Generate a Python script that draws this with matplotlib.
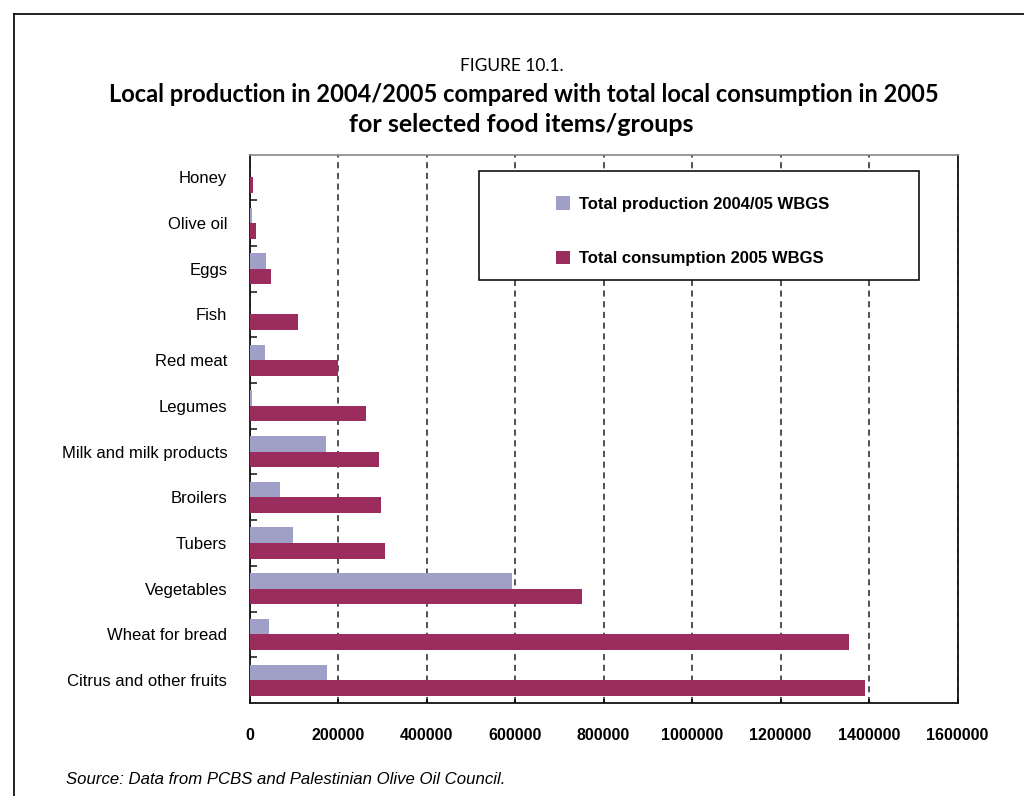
import matplotlib
matplotlib.use("Agg")
import matplotlib.pyplot as plt
import numpy as np
from matplotlib.lines import Line2D
from matplotlib.patches import Rectangle, Patch
from matplotlib.ticker import FixedLocator

categories = ["Citrus and other fruits", "Wheat for bread", "Vegetables", "Tubers",
              "Broilers", "Milk and milk products", "Legumes", "Red meat", "Fish",
              "Eggs", "Olive oil", "Honey"]
production = [175000, 44000, 593000, 98000, 69000, 173000, 5000, 35000, 1000, 37000, 5000, 0]
consumption = [1391000, 1355000, 751000, 306000, 297000, 293000, 263000, 200000, 109600, 48600, 15000, 8000]
series_names = ["Total production 2004/05 WBGS", "Total consumption 2005 WBGS"]
xticks = [0, 200000, 400000, 600000, 800000, 1000000, 1200000, 1400000, 1600000]

c_prod = "#A09FC8"
c_cons = "#9B2C5E"

W, H = 1024, 796
fig = plt.figure(figsize=(W / 100, H / 100), dpi=100)
ax = fig.add_axes([249.5 / W, 1 - 703 / H, (957.5 - 249.5) / W, (703 - 154.5) / H])

y = np.arange(len(categories))
bh = 0.34
ax.barh(y + bh / 2, production, height=bh, color=c_prod, zorder=3)
ax.barh(y - bh / 2, consumption, height=bh, color=c_cons, zorder=3)

ax.set_xlim(0, 1600000)
ax.set_ylim(-0.5, len(categories) - 0.5)
ax.set_xticks(xticks)
ax.set_xticklabels([str(t) for t in xticks], fontfamily="Liberation Sans",
                   fontweight="bold", fontsize=11.5)
ax.set_yticks(y)
ax.set_yticklabels(categories, fontfamily="Liberation Sans", fontsize=12)
ax.yaxis.set_minor_locator(FixedLocator(np.arange(0.5, len(categories) - 0.5, 1)))
ax.tick_params(axis="y", which="major", length=0, pad=16)
ax.tick_params(axis="y", which="minor", direction="in", length=5, width=1.2, color="#222")
ax.tick_params(axis="x", which="major", direction="in", length=3, width=1.2, pad=18)

ax.grid(axis="x", linestyle=(0, (4, 3)), color="#222", linewidth=1.1, zorder=1)
for s in ["left", "bottom", "right"]:
    ax.spines[s].set_color("#111")
    ax.spines[s].set_linewidth(1.3)
ax.spines["top"].set_color("#888")
ax.spines["top"].set_linewidth(1.2)

# legend box
lx0 = (479 - 249.5) / 707.5
lx1 = (919 - 249.5) / 707.5
ly0 = (703 - 280) / 548.5
ly1 = (703 - 171) / 548.5
ax.add_patch(Rectangle((lx0, ly0), lx1 - lx0, ly1 - ly0, transform=ax.transAxes,
                       facecolor="white", edgecolor="#111", linewidth=1.2, zorder=5))
handles = [Patch(facecolor=c_prod, edgecolor="none"), Patch(facecolor=c_cons, edgecolor="none")]
leg = ax.legend(handles, series_names, loc="upper left",
                bbox_to_anchor=((556 - 249.5) / 707.5, (703 - 196.5) / 548.5),
                frameon=False, borderpad=0, borderaxespad=0,
                handlelength=0.85, handleheight=0.85, handletextpad=0.5,
                labelspacing=2.35, prop={"family": "Liberation Sans", "weight": "bold", "size": 12})
leg.set_zorder(6)

# titles
fig.text(512 / W, 1 - 66 / H, "FIGURE 10.1.", ha="center", va="center",
         fontfamily="Lato", fontsize=12.5)
fig.text(524 / W, 1 - 95 / H,
         "Local production in 2004/2005 compared with total local consumption in 2005",
         ha="center", va="center", fontfamily="Lato", fontweight="bold", fontsize=17)
fig.text(521 / W, 1 - 124 / H, "for selected food items/groups", ha="center", va="center",
         fontfamily="Lato", fontweight="bold", fontsize=18)

fig.text(66 / W, 1 - 780 / H, "Source: Data from PCBS and Palestinian Olive Oil Council.",
         ha="left", va="center", fontfamily="Liberation Sans", fontstyle="italic", fontsize=12.1)

# outer frame
fx = 14 / W
fy = 1 - 14 / H
fig.add_artist(Line2D([fx, fx], [0, fy], transform=fig.transFigure, color="#111", linewidth=1.3))
fig.add_artist(Line2D([fx, 1], [fy, fy], transform=fig.transFigure, color="#111", linewidth=1.3))

fig.savefig("out.png", dpi=100)
